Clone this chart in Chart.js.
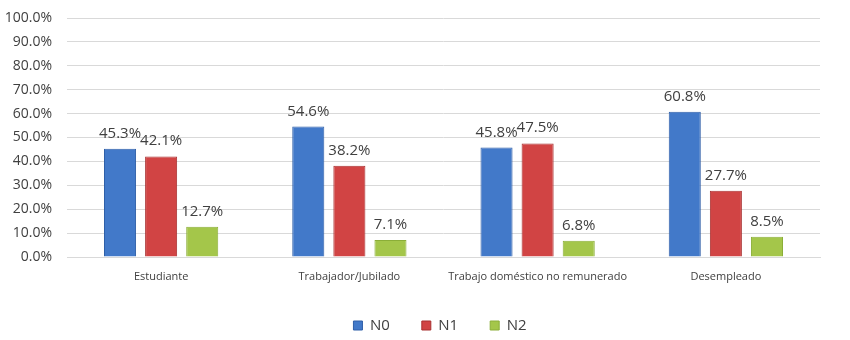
<!DOCTYPE html>
<html>
<head>
<meta charset="utf-8">
<script src="https://cdn.jsdelivr.net/npm/chart.js@4"></script>
<style>
  html, body { margin: 0; padding: 0; background: #fff; }
  #wrap { width: 850px; height: 340px; }
</style>
</head>
<body>
<div id="wrap"><canvas id="chart"></canvas></div>
<script>
const categories = ['Estudiante', 'Trabajador/Jubilado', 'Trabajo doméstico no remunerado', 'Desempleado']
const n0 = [45.3, 54.6, 45.8, 60.8]
const n1 = [42.1, 38.2, 47.5, 27.7]
const n2 = [12.7, 7.1, 6.8, 8.5]
const seriesNames = ['N0', 'N1', 'N2']

/*==================== data labels above bars ====================*/
const barLabels = {
    id: 'barLabels',
    afterDatasetsDraw(chart) {
        const ctx = chart.ctx
        ctx.save()
        ctx.font = '15px "Open Sans", "DejaVu Sans", sans-serif'
        ctx.fillStyle = '#404040'
        ctx.textAlign = 'center'
        ctx.textBaseline = 'alphabetic'
        chart.data.datasets.forEach((ds, i) => {
            chart.getDatasetMeta(i).data.forEach((bar, j) => {
                ctx.fillText(ds.data[j].toFixed(1) + '%', bar.x, bar.y - 11)
            })
        })
        ctx.restore()
    }
}

// legend sits a bit right of the plot centre in the original
const legendShift = {
    id: 'legendShift',
    afterLayout(chart) {
        const lg = chart.legend
        lg.left += 30; lg.right += 30
        lg.top += 3; lg.bottom += 3
    }
}

var data = {
    labels: categories,
    datasets: [
        { label: seriesNames[0], data: n0, backgroundColor: '#4279C9', borderColor: '#2F5FA8', borderWidth: 1 },
        { label: seriesNames[1], data: n1, backgroundColor: '#D14444', borderColor: '#A83030', borderWidth: 1 },
        { label: seriesNames[2], data: n2, backgroundColor: '#A4C64A', borderColor: '#8BAE38', borderWidth: 1 }
    ]
}

var config = {
    type: 'bar',
    data: data,
    options: {
        responsive: true,
        maintainAspectRatio: false,
        animation: false,
        categoryPercentage: 0.655,
        barPercentage: 0.78,
        layout: { padding: { top: 18, right: 30, left: 0, bottom: 0 } },
        scales: {
            x: {
                grid: { display: false },
                border: { color: '#d9d9d9' },
                ticks: {
                    color: '#404040',
                    maxRotation: 0,
                    minRotation: 0,
                    autoSkip: false,
                    font: { size: 11, family: '"Open Sans", "DejaVu Sans", sans-serif' },
                    padding: 5
                },
                afterFit: s => { s.height = 26 }
            },
            y: {
                min: 0,
                max: 100,
                ticks: {
                    stepSize: 10,
                    color: '#404040',
                    padding: 15,
                    font: { size: 14, family: '"Open Sans", "DejaVu Sans", sans-serif' },
                    callback: v => v.toFixed(1) + '%'
                },
                grid: { color: '#d9d9d9', drawTicks: false },
                border: { display: false },
                afterFit: s => { s.width = 67; s.paddingTop = 0; s.paddingBottom = 0 }
            }
        },
        plugins: {
            legend: {
                position: 'bottom',
                labels: {
                    boxWidth: 9,
                    boxHeight: 9,
                    padding: 32,
                    color: '#404040',
                    font: { size: 15, family: '"Open Sans", "DejaVu Sans", sans-serif' }
                }
            },
            tooltip: { enabled: false }
        }
    },
    plugins: [barLabels, legendShift]
}

var chart = new Chart(document.getElementById('chart'), config)
</script>
</body>
</html>
